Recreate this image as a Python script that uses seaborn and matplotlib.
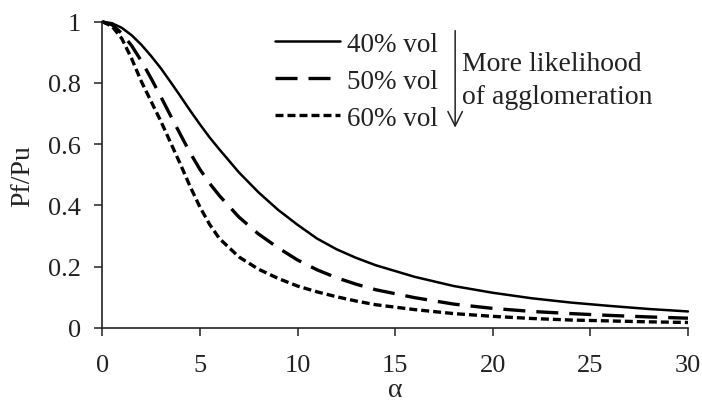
import numpy as np
import pandas as pd
import matplotlib
matplotlib.use("Agg")
import matplotlib.pyplot as plt
import seaborn as sns

alpha = [0, 0.5, 1, 1.5, 2, 2.5, 3, 3.5, 4, 4.5, 5, 5.5, 6, 7, 8, 9, 10, 11, 12, 13, 14,
         16, 18, 20, 22, 24, 26, 28, 30]
vol40 = [1.000, 0.995, 0.980, 0.956, 0.925, 0.888, 0.848, 0.803, 0.757, 0.710, 0.665,
         0.622, 0.583, 0.508, 0.443, 0.386, 0.337, 0.292, 0.257, 0.229, 0.205,
         0.167, 0.137, 0.115, 0.097, 0.083, 0.072, 0.062, 0.054]
vol50 = [1.000, 0.990, 0.962, 0.922, 0.872, 0.815, 0.755, 0.693, 0.632, 0.572, 0.518,
         0.472, 0.432, 0.362, 0.307, 0.262, 0.222, 0.190, 0.164, 0.143, 0.125,
         0.099, 0.078, 0.064, 0.054, 0.047, 0.041, 0.036, 0.032]
vol60 = [1.000, 0.985, 0.945, 0.880, 0.805, 0.740, 0.675, 0.605, 0.535, 0.462, 0.395,
         0.338, 0.292, 0.232, 0.192, 0.162, 0.137, 0.118, 0.102, 0.088, 0.076,
         0.060, 0.047, 0.038, 0.031, 0.026, 0.023, 0.020, 0.018]
labels = ["40% vol", "50% vol", "60% vol"]
xticks = [0, 5, 10, 15, 20, 25, 30]
yticks = [0, 0.2, 0.4, 0.6, 0.8, 1]
yticklabels = ["0", "0.2", "0.4", "0.6", "0.8", "1"]

sns.set_theme(style="white")
plt.rcParams['font.family'] = ['Liberation Serif', 'DejaVu Serif']

fig = plt.figure(figsize=(7.02, 4.10), dpi=100)
ax = fig.add_axes([0.1457, 0.1976, 0.8343, 0.747])

styles = [
    dict(lw=1.8, dashes=()),
    dict(lw=2.4, dashes=(6.6, 3.3)),
    dict(lw=2.4, dashes=(2.4, 1.2)),
]
handles = []
for vals, lab, st in zip([vol40, vol50, vol60], labels, styles):
    df = pd.DataFrame({"alpha": alpha, "ratio": vals})
    sns.lineplot(data=df, x="alpha", y="ratio", ax=ax, color="black",
                 linewidth=st["lw"], legend=False)
    ln = ax.lines[-1]
    if st["dashes"]:
        ln.set_dashes(st["dashes"])
    ln.set_clip_on(False)
    ln.set_solid_joinstyle("round")
    ln.set_label(lab)
    handles.append(ln)

ax.set_xlim(0, 30)
ax.set_ylim(0, 1)
ax.set_xticks(xticks)
ax.set_xticklabels([str(t) for t in xticks])
ax.set_yticks(yticks)
ax.set_yticklabels(yticklabels)
for s in ["top", "right"]:
    ax.spines[s].set_visible(False)
for s in ["left", "bottom"]:
    ax.spines[s].set_color("#222222")
    ax.spines[s].set_linewidth(1.2)
ax.tick_params(axis="both", which="major", direction="out", length=5.5, width=1.1,
               color="#222222", labelsize=19, labelcolor="#222222",
               bottom=True, left=True)
ax.tick_params(axis="x", pad=13)
ax.tick_params(axis="y", pad=10)
ax.set_xlabel("α", fontsize=20, color="#222222", labelpad=1)
ax.set_ylabel("Pf/Pu", fontsize=20, color="#222222", labelpad=9)

leg = ax.legend(handles=handles, labels=labels, loc="upper left",
                bbox_to_anchor=(0.295, 0.968), frameon=False, fontsize=19.5,
                handlelength=2.4, handletextpad=0.25, labelspacing=0.45,
                borderpad=0, borderaxespad=0)
for t in leg.get_texts():
    t.set_color("#222222")

ax.annotate("", xy=(0.6025, 0.645), xytext=(0.6025, 0.98), xycoords="axes fraction",
            arrowprops=dict(arrowstyle="->", color="#222222", lw=1.1,
                            mutation_scale=26))
ax.text(0.614, 0.81, "More likelihood\nof agglomeration", transform=ax.transAxes,
        fontsize=20, color="#222222", va="center", ha="left", linespacing=1.4)

fig.savefig("out.png", dpi=100)
